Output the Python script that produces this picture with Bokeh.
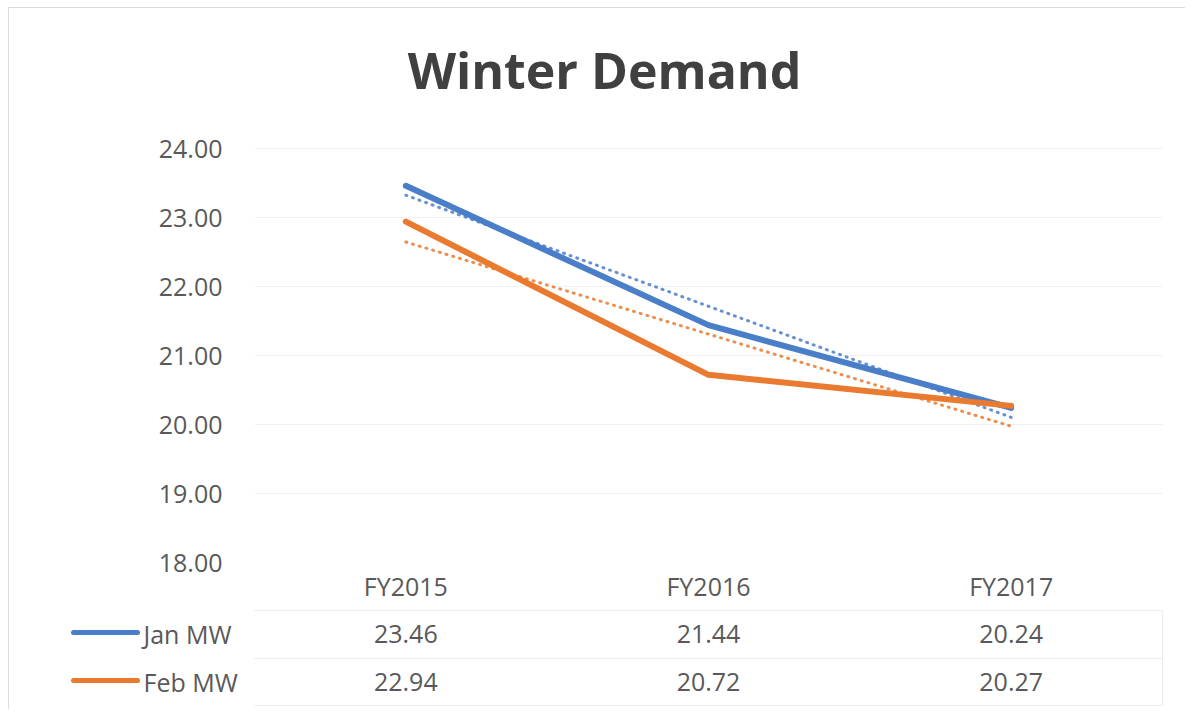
import numpy as np
from bokeh.plotting import figure
from bokeh.models import (Range1d, FixedTicker, NumeralTickFormatter, ColumnDataSource, Label)
from bokeh.layouts import column, row
from bokeh.core.properties import value
from bokeh.embed import file_html
from bokeh.resources import INLINE

# ---- data ----
categories = ["FY2015", "FY2016", "FY2017"]
jan_mw = [23.46, 21.44, 20.24]
feb_mw = [22.94, 20.72, 20.27]
series_names = ["Jan MW", "Feb MW"]
y_ticks = [18, 19, 20, 21, 22, 23, 24]
title_text = "Winter Demand"

# ---- style ----
BLUE = "#4A7EC8"
ORANGE = "#E97A2F"
TXT = "#595959"
GRIDC = "#ececec"
FONT = "Open Sans"
FS = "25px"

W = 1176
FRAME_L, FRAME_W = 245, 908
FRAME_R = W - FRAME_L - FRAME_W
PX_PER_UNIT = 69.0
TOP_PAD = 8
PLOT_TOP = 140
FRAME_H = PLOT_TOP - TOP_PAD + (max(y_ticks) - min(y_ticks)) * PX_PER_UNIT
BOT_TOP = 46
BAND = FRAME_W / len(categories)

y_end = min(y_ticks) + FRAME_H / PX_PER_UNIT
top = figure(x_range=categories, y_range=Range1d(min(y_ticks), y_end),
             frame_width=FRAME_W, frame_height=int(round(FRAME_H)),
             min_border_left=FRAME_L, min_border_right=FRAME_R,
             min_border_top=TOP_PAD, min_border_bottom=BOT_TOP,
             output_backend="svg", toolbar_location=None)
top.outline_line_color = None

title_x = (604 - 9 - FRAME_L) / BAND
title_y = max(y_ticks) + 79 / PX_PER_UNIT
top.add_layout(Label(x=title_x, y=title_y, text=title_text, text_font=FONT,
                     text_font_size="50px", text_font_style="bold", text_color="#404040",
                     text_align="center", text_baseline="alphabetic"))

top.xgrid.grid_line_color = None
top.ygrid.grid_line_color = "#f1f1f1"
top.ygrid.grid_line_width = 1

ya = top.yaxis[0]
ya.ticker = FixedTicker(ticks=y_ticks)
ya.formatter = NumeralTickFormatter(format="0.00")
ya.axis_line_color = None
ya.major_tick_line_color = None
ya.minor_tick_line_color = None
ya.major_label_text_font = FONT
ya.major_label_text_font_size = FS
ya.major_label_text_color = TXT
ya.major_label_standoff = 26

xa = top.xaxis[0]
xa.axis_line_color = None
xa.major_tick_line_color = None
xa.major_label_text_font = FONT
xa.major_label_text_font_size = FS
xa.major_label_text_color = TXT
xa.major_label_standoff = 0

xs_num = np.arange(1, len(categories) + 1)
for vals, col in ((jan_mw, BLUE), (feb_mw, ORANGE)):
    k, b = np.polyfit(xs_num, vals, 1)
    trend = [k * xs_num[0] + b, k * xs_num[-1] + b]
    top.line([categories[0], categories[-1]], trend, line_color=col,
             line_width=3, line_dash="1 6", line_cap="round", line_alpha=0.85)
for vals, col in ((jan_mw, BLUE), (feb_mw, ORANGE)):
    top.line(categories, vals, line_color=col, line_width=6, line_join="round",
             line_cap="round")

# ---- data table below (x measured in category bands, same scale as above) ----
BH = 101
bot = figure(width=W, height=BH,
             x_range=Range1d(-FRAME_L / BAND, (W - FRAME_L) / BAND),
             y_range=Range1d(BH, 0),
             x_axis_location=None, y_axis_location=None,
             min_border=0, output_backend="svg", toolbar_location=None)
bot.grid.visible = False
bot.outline_line_color = None

n = len(categories)
row_y = [25, 73]
for yy in (2, 50, 97):
    bot.line([0, n], [yy, yy], line_color=GRIDC, line_width=1)
bot.line([n, n], [2, 97], line_color=GRIDC, line_width=1)

centers = [i + 0.5 for i in range(n)]
tx, ty, tt = [], [], []
for r, vals in enumerate((jan_mw, feb_mw)):
    for c, v in zip(centers, vals):
        tx.append(c); ty.append(row_y[r]); tt.append(f"{v:.2f}")
bot.text(x="x", y="y", text="t", source=ColumnDataSource(dict(x=tx, y=ty, t=tt)),
         text_font=value(FONT), text_font_size=FS, text_color=TXT,
         text_align="center", text_baseline="middle")

key_x0 = (64 - FRAME_L) / BAND
key_x1 = (128 - FRAME_L) / BAND
lab_x = (134 - FRAME_L) / BAND
for r, col in enumerate((BLUE, ORANGE)):
    bot.line([key_x0, key_x1], [row_y[r] - 1, row_y[r] - 1], line_color=col,
             line_width=5, line_cap="round")
bot.text(x=[lab_x] * 2, y=row_y, text=series_names,
         text_font=value(FONT), text_font_size=FS, text_color=TXT,
         text_align="left", text_baseline="middle")

layout = column(top, row(bot), spacing=0,
                styles={"margin-left": "8px", "margin-top": "7px",
                        "border-top": "1px solid #dcdcdc", "border-left": "1px solid #dcdcdc"})

open("out.html", "w").write(file_html(layout, INLINE))
